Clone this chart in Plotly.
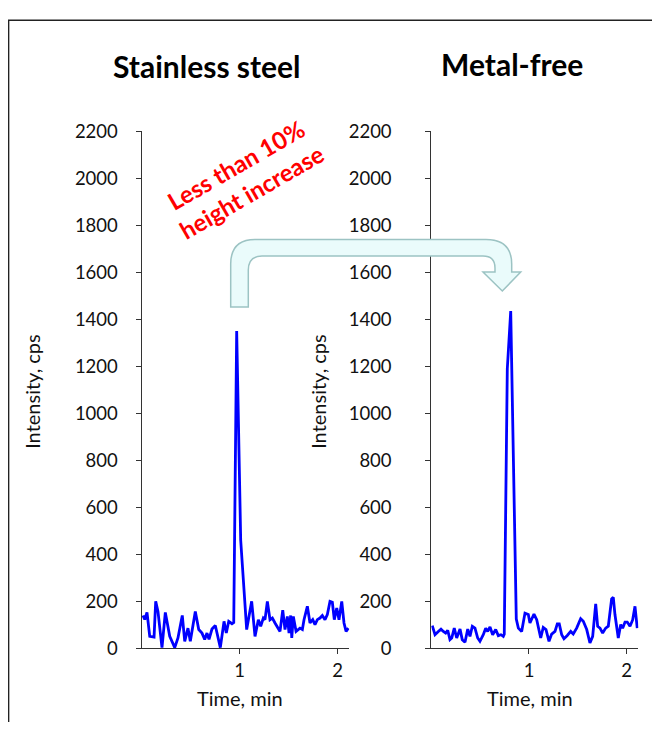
import plotly.graph_objects as go

# Stainless steel column (left panel)
left_time = [0.015, 0.033, 0.056, 0.084, 0.128, 0.145, 0.168, 0.209, 0.243, 0.288,
             0.339, 0.372, 0.416, 0.441, 0.474, 0.498, 0.549, 0.584, 0.617, 0.645,
             0.668, 0.689, 0.719, 0.753, 0.804, 0.842, 0.865, 0.890, 0.923, 0.941,
             0.971, 1.012, 1.073, 1.124, 1.158, 1.192, 1.216, 1.243, 1.260, 1.284,
             1.311, 1.335, 1.362, 1.396, 1.413, 1.441, 1.464, 1.488, 1.505, 1.522,
             1.533, 1.549, 1.577, 1.617, 1.641, 1.658, 1.692, 1.719, 1.747, 1.770,
             1.794, 1.821, 1.845, 1.872, 1.896, 1.923, 1.947, 1.967, 1.992, 2.015,
             2.043, 2.066, 2.087, 2.110]
left_intensity = [140, 123, 153, 51, 48, 200, 157, 3, 153, 51,
                  3, 44, 140, 30, 86, 30, 157, 80, 65, 38,
                  65, 38, 82, 97, 3, 115, 65, 115, 105, 110,
                  1350, 460, 80, 200, 51, 122, 94, 129, 122, 200,
                  122, 129, 108, 86, 72, 162, 80, 136, 65, 140,
                  44, 136, 72, 86, 80, 122, 179, 108, 122, 101,
                  122, 129, 140, 122, 144, 200, 196, 122, 172, 122,
                  200, 108, 72, 86]

# Metal-free column (right panel)
right_time = [0.010, 0.038, 0.072, 0.099, 0.123, 0.147, 0.168, 0.191, 0.209, 0.235,
              0.260, 0.294, 0.317, 0.345, 0.373, 0.396, 0.420, 0.447, 0.475, 0.498,
              0.532, 0.557, 0.577, 0.601, 0.628, 0.659, 0.686, 0.713, 0.737, 0.747,
              0.778, 0.813, 0.870, 0.891, 0.925, 0.959, 0.993, 1.010, 1.051, 1.079,
              1.120, 1.146, 1.174, 1.205, 1.232, 1.266, 1.290, 1.310, 1.335, 1.358,
              1.392, 1.427, 1.453, 1.488, 1.529, 1.556, 1.591, 1.624, 1.652, 1.683,
              1.703, 1.727, 1.754, 1.785, 1.812, 1.846, 1.863, 1.880, 1.914, 1.939,
              1.959, 1.983, 2.006, 2.034, 2.061, 2.085, 2.108]
right_intensity = [97, 58, 72, 82, 72, 65, 77, 37, 44, 86,
                   44, 82, 37, 26, 82, 51, 94, 86, 44, 30,
                   58, 86, 72, 91, 58, 80, 54, 58, 51, 60,
                   1190, 1435, 125, 86, 72, 150, 144, 108, 146, 122,
                   44, 89, 80, 30, 61, 72, 104, 104, 58, 41,
                   55, 72, 61, 86, 126, 115, 80, 23, 51, 189,
                   94, 86, 65, 86, 94, 210, 217, 144, 44, 101,
                   86, 112, 112, 94, 121, 179, 86]

panel_titles = ["Stainless steel", "Metal-free"]
y_ticks = list(range(0, 2201, 200))
x_ticks = [1, 2]

# page body has an 8px margin
OFF = 8
W, H = 660 - 2 * OFF, 730 - 2 * OFF
FONT = "Lato"
# vertical calibration measured from earlier renders (shown = 9.7 + 0.971 * asked)
Y0, YS = 9.7, 0.971


def px(x):
    # target pixel -> paper x
    return (x - OFF) / W


def py(y):
    # target pixel -> paper y
    return 1 - ((y - Y0) / YS - OFF) / H


def label(text, x, y, size, angle=0, bold=False, color="#111111"):
    return dict(text=text, x=px(x), y=py(y), xref="paper", yref="paper",
                xanchor="center", yanchor="middle", textangle=angle, showarrow=False,
                font=dict(family=FONT, size=size, color=color,
                          weight="bold" if bold else "normal"))


fig = go.Figure()
fig.add_trace(go.Scatter(x=left_time, y=left_intensity, mode="lines",
                         line=dict(color="#0000FF", width=2.8),
                         xaxis="x", yaxis="y", showlegend=False))
fig.add_trace(go.Scatter(x=right_time, y=right_intensity, mode="lines",
                         line=dict(color="#0000FF", width=2.8),
                         xaxis="x2", yaxis="y2", showlegend=False))

xaxis_common = dict(range=[0, 2.12], tickvals=x_ticks, ticks="outside", ticklen=5,
                    showline=True, linecolor="#333333", linewidth=1, tickcolor="#333333",
                    showgrid=False, zeroline=False,
                    tickfont=dict(family=FONT, size=18.5, color="#111111"))
yaxis_common = dict(range=[0, 2200], tickvals=y_ticks, ticks="outside", ticklen=5,
                    showline=True, linecolor="#333333", linewidth=1, tickcolor="#333333",
                    showgrid=False, zeroline=False,
                    tickfont=dict(family=FONT, size=18.5, color="#111111"))

y_dom = [py(647), py(129)]

# bent arrow from the steel peak over to the metal-free peak (target pixels)
arrow_pts = [
    ("M", 230.7, 305), ("L", 230.7, 262), ("Q", 230.7, 237.3, 255, 237.3),
    ("L", 486, 237.3), ("Q", 511.7, 237.3, 511.7, 262), ("L", 511.7, 270),
    ("L", 520.7, 270), ("L", 502.3, 289), ("L", 483, 270), ("L", 495, 270),
    ("L", 495, 266), ("Q", 495, 254, 483, 254), ("L", 262, 254),
    ("Q", 248.3, 254, 248.3, 268), ("L", 248.3, 305),
]
path = ""
for p in arrow_pts:
    coords = p[1:]
    pairs = [f"{px(coords[i]):.5f},{py(coords[i + 1]):.5f}" for i in range(0, len(coords), 2)]
    path += p[0] + " " + " ".join(pairs) + " "
path += "Z"

fig.update_layout(
    width=W, height=H,
    margin=dict(l=0, r=0, t=0, b=0),
    paper_bgcolor="white", plot_bgcolor="white",
    xaxis=dict(domain=[px(141.5), px(349.3)], anchor="y", **xaxis_common),
    yaxis=dict(domain=y_dom, anchor="x", ticklabelstandoff=14, **yaxis_common),
    xaxis2=dict(domain=[px(431.3), px(638.4)], anchor="y2", **xaxis_common),
    yaxis2=dict(domain=y_dom, anchor="x2", ticklabelstandoff=30, **yaxis_common),
    shapes=[
        dict(type="rect", xref="paper", yref="paper", x0=px(8.6), y0=min(py(13), 0.9995),
             x1=px(700), y1=py(760),
             line=dict(color="#222222", width=1.5), fillcolor="rgba(0,0,0,0)", layer="below"),
        dict(type="path", xref="paper", yref="paper", path=path,
             fillcolor="#EAFBFB", line=dict(color="#9CC3C3", width=1.5), layer="above"),
    ],
    annotations=[
        label(panel_titles[0], 207, 64, 30, bold=True, color="black"),
        label(panel_titles[1], 512, 62, 30, bold=True, color="black"),
        label("Intensity, cps", 32, 390, 20, angle=-90),
        label("Intensity, cps", 318, 390, 20, angle=-90),
        label("Time, min", 240, 697, 20),
        label("Time, min", 530, 697, 20),
        label("Less than 10%<br>height increase", 244, 176, 24, angle=-30, bold=True,
              color="#FF0000"),
    ],
)

fig.write_html("out.html")
